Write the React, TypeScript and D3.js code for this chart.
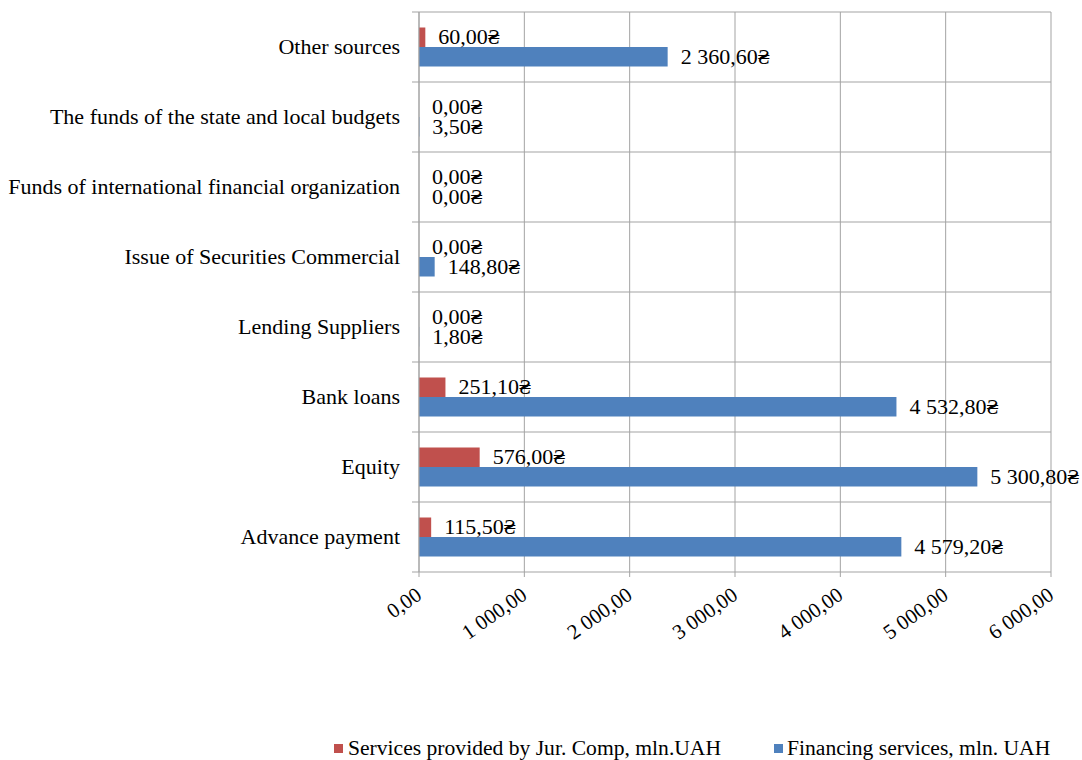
import React from "react";
import * as d3 from "d3";

const categories = [
  "Other sources",
  "The funds of the state and local budgets",
  "Funds of international financial organization",
  "Issue of Securities Commercial",
  "Lending Suppliers",
  "Bank loans",
  "Equity",
  "Advance payment",
];
const seriesNames = ["Services provided by Jur. Comp, mln.UAH", "Financing services, mln. UAH"];
const servicesJur = [60.0, 0.0, 0.0, 0.0, 0.0, 251.1, 576.0, 115.5];
const financing = [2360.6, 3.5, 0.0, 148.8, 1.8, 4532.8, 5300.8, 4579.2];
const xTicks = [0, 1000, 2000, 3000, 4000, 5000, 6000];
const colors = ["#C0504D", "#4F81BD"];

const W = 1082;
const H = 760;
const FONT = "'Liberation Serif', 'Times New Roman', 'DejaVu Serif', serif";
const GRID = "#a3a3a3";

const locale = d3.formatLocale({ decimal: ",", thousands: " ", grouping: [3], currency: ["", "₴"] });
const fmtTick = locale.format(",.2f");
const fmtVal = (v: number) => locale.format(",.2f")(v) + "₴";

export default function App() {
  const x = d3.scaleLinear().domain([0, 6000]).range([419, 1051]);
  const y = d3.scaleBand<string>().domain(categories).range([12, 572]).padding(0);
  const sub = d3
    .scaleBand<string>()
    .domain(["s0", "s1"])
    .range([0, y.step()])
    .paddingInner(0)
    .paddingOuter(0.795);
  const series = [servicesJur, financing];
  const x0 = x(0);
  const [top, bottom] = y.range();

  return (
    <svg
      width={W}
      height={H}
      style={{ position: "absolute", left: 0, top: 0, background: "#fff" }}
      fontFamily={FONT}
    >
      {/* vertical gridlines */}
      {xTicks.map((t) => (
        <line key={"vg" + t} x1={x(t)} x2={x(t)} y1={top} y2={bottom + 5} stroke={GRID} strokeWidth={1} />
      ))}
      {/* horizontal gridlines at category boundaries */}
      {d3.range(categories.length + 1).map((i) => {
        const yy = top + i * y.step();
        return <line key={"hg" + i} x1={x0 - 7} x2={x(6000)} y1={yy} y2={yy} stroke={GRID} strokeWidth={1} />;
      })}
      {/* bars */}
      {series.map((vals, si) =>
        categories.map((c, ci) => {
          const by = (y(c) as number) + (sub("s" + si) as number);
          return (
            <rect
              key={"b" + si + "-" + ci}
              x={x0}
              y={by}
              width={Math.max(0, x(vals[ci]) - x0)}
              height={sub.bandwidth()}
              fill={colors[si]}
            />
          );
        })
      )}
      {/* axis line */}
      <line x1={x0} x2={x0} y1={top} y2={bottom} stroke={GRID} strokeWidth={1} />
      {/* data labels */}
      {series.map((vals, si) =>
        categories.map((c, ci) => {
          const cy = (y(c) as number) + (sub("s" + si) as number) + sub.bandwidth() / 2;
          return (
            <text key={"l" + si + "-" + ci} x={x(vals[ci]) + 13} y={cy + 7} fontSize={22} fill="#000">
              {fmtVal(vals[ci])}
            </text>
          );
        })
      )}
      {/* category labels */}
      {categories.map((c) => (
        <text
          key={"c" + c}
          x={400}
          y={(y(c) as number) + y.bandwidth() / 2 + 7}
          fontSize={22}
          textAnchor="end"
          fill="#000"
        >
          {c}
        </text>
      ))}
      {/* x tick labels */}
      {xTicks.map((t) => (
        <text
          key={"t" + t}
          transform={`translate(${x(t) + 4},598) rotate(-35)`}
          fontSize={21}
          textAnchor="end"
          fill="#000"
        >
          {fmtTick(t)}
        </text>
      ))}
      {/* legend */}
      <rect x={334} y={744} width={9} height={9} fill={colors[0]} />
      <text x={348} y={755} fontSize={21.6} fill="#000">
        {seriesNames[0]}
      </text>
      <rect x={774} y={744} width={9} height={9} fill={colors[1]} />
      <text x={787} y={755} fontSize={21.6} fill="#000">
        {seriesNames[1]}
      </text>
    </svg>
  );
}
